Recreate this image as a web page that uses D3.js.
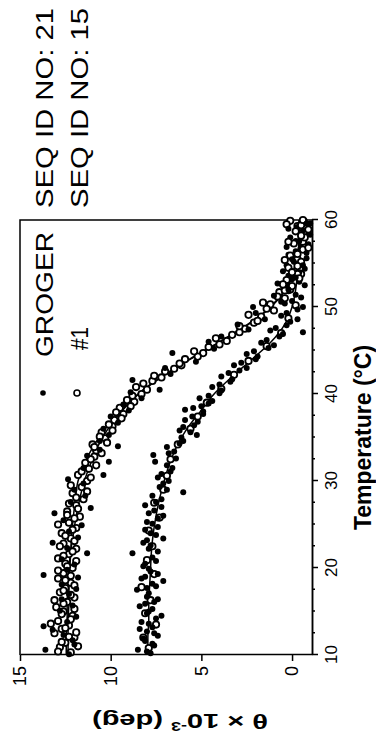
<!DOCTYPE html>
<html>
<head>
<meta charset="utf-8">
<script src="https://cdn.jsdelivr.net/npm/d3@7"></script>
<style>
  body { margin: 0; background: #fff; }
  svg { display: block; font-family: "Liberation Sans", Arial, sans-serif; }
  .axis path, .axis line { stroke: #000; stroke-width: 1.5; }
  .axis text { fill: #000; }
  .fit { fill: none; stroke: #000; stroke-width: 1.5; }
</style>
</head>
<body>
<svg width="376" height="743"></svg>
<script>
// temperature ticks and theta ticks
var tempTicks = [10, 20, 30, 40, 50, 60];
var thetaTicks = [0, 5, 10, 15];
var legendNames = ['GROGER', '#1'];
var legendSeq = ['SEQ ID NO: 21', 'SEQ ID NO: 15'];

// fitted curves
var fitT = [10, 12, 14, 16, 18, 20, 22, 24, 26, 28, 30, 32, 34, 36, 38, 40, 42, 44, 46, 48, 50, 52, 54, 56, 58, 60];
var fitOneHigh = [12.45, 12.45, 12.4, 12.4, 12.35, 12.3, 12.2, 12.05, 11.9, 11.7, 11.45, 11.1, 10.7, 10.15, 9.4, 8.45, 7.15, 5.6, 3.95, 2.4, 1.15, 0.35, -0.1, -0.3, -0.4, -0.4];
var fitGrogerHigh = [12.35, 12.35, 12.35, 12.3, 12.3, 12.25, 12.2, 12.15, 12.05, 11.95, 11.8, 11.45, 10.95, 10.3, 9.45, 8.5, 7.2, 5.65, 4.0, 2.45, 1.2, 0.4, -0.05, -0.3, -0.4, -0.4];
var fitLow = [7.95, 7.95, 7.9, 7.9, 7.85, 7.8, 7.75, 7.65, 7.5, 7.3, 7.05, 6.75, 6.35, 5.8, 5.05, 4.3, 3.3, 2.2, 1.15, 0.4, 0.0, -0.2, -0.3, -0.35, -0.4, -0.4];

// #1, upper curve (open circles)
var oneHighT = [10.3, 10.9, 11.4, 12.0, 12.5, 13.0, 13.4, 13.9, 14.5, 15.0, 15.5, 16.1, 16.6, 17.2, 17.7, 18.3, 18.8, 19.4, 20.0, 20.5, 21.1, 21.6, 22.2, 22.8, 23.4, 24.0, 24.6, 25.2, 25.9, 26.5, 27.2, 27.9, 28.6, 29.3, 30.0, 30.7, 31.4, 32.1, 32.8, 33.5, 34.2, 34.9, 35.6, 36.3, 37.0, 37.7, 38.4, 39.1, 39.8, 40.5, 41.2, 41.9, 42.6, 43.3, 44.0, 44.7, 45.4, 46.1, 46.8, 47.5, 48.2, 48.9, 49.6, 50.3, 51.0, 51.7, 52.4, 53.1, 53.8, 54.5, 55.2, 55.9, 56.6, 57.3, 58.0, 58.7, 59.4, 59.9,
    10.4, 11.0, 11.5, 12.1, 12.6, 13.1, 13.6, 14.1, 14.7, 15.3, 15.9, 16.3, 16.9, 17.4, 18.0, 18.6, 19.1, 19.7, 20.2, 20.8, 21.4, 21.9, 22.5, 23.1, 23.7, 24.4, 25.0, 25.7, 26.1, 26.8, 27.4, 28.1, 28.8, 29.5, 30.4, 31.1, 31.8, 32.5, 33.2, 33.9, 34.4, 35.1, 35.8, 36.5, 37.2, 37.9, 38.6, 39.3, 40.0, 40.8, 41.5, 42.1, 42.9, 43.5, 44.3, 44.9, 45.7, 46.4, 47.1, 47.8, 48.4, 49.1, 49.8, 50.5, 51.2, 51.9, 52.6, 53.3, 54.0, 54.7, 55.4, 56.1, 56.8, 57.5, 58.2, 58.9, 59.5, 60.0];
var oneHighTheta = [12.2, 12.8, 12.5, 12.0, 13.1, 12.7, 12.3, 12.9, 12.1, 12.6, 13.0, 12.4, 12.0, 12.8, 12.5, 12.2, 12.9, 12.6, 12.1, 12.5, 12.9, 12.3, 11.9, 12.6, 12.2, 12.7, 11.9, 12.3, 11.7, 12.4, 11.9, 11.5, 12.1, 11.6, 11.3, 11.8, 11.2, 11.4, 10.9, 10.8, 11.0, 10.3, 10.5, 9.9, 9.8, 9.3, 9.5, 8.7, 8.8, 8.0, 8.2, 7.2, 7.0, 6.1, 5.9, 4.9, 4.6, 3.6, 3.3, 2.6, 2.1, 1.7, 1.0, 1.2, 0.4, 0.7, 0.0, 0.3, -0.3, 0.2, -0.5, 0.1, -0.6, -0.1, -0.7, -0.2, -0.5, 0.1,
    12.9, 11.8, 12.7, 12.3, 11.9, 12.5, 13.3, 12.2, 12.7, 12.0, 12.6, 13.1, 12.2, 12.6, 12.0, 12.5, 12.2, 12.9, 12.4, 11.9, 12.6, 12.1, 12.8, 12.0, 12.5, 12.1, 12.9, 12.0, 12.4, 11.8, 12.3, 11.9, 11.3, 12.2, 11.1, 11.6, 10.8, 11.1, 10.5, 10.9, 10.2, 10.6, 9.9, 10.1, 9.4, 9.7, 8.9, 9.1, 8.3, 8.6, 7.7, 7.6, 6.5, 6.2, 5.2, 5.4, 4.0, 4.2, 2.9, 2.9, 1.9, 2.4, 1.4, 1.6, 0.8, 0.4, 0.5, -0.4, 0.0, -0.3, 0.4, -0.3, -0.9, 0.2, -0.5, -0.9, 0.3, -0.6];

// GROGER, upper curve (dots)
var grogerHighT = [10.1, 10.6, 11.2, 11.7, 12.3, 12.9, 13.3, 13.8, 14.4, 15.1, 15.7, 16.4, 17.0, 17.6, 18.1, 18.9, 19.2, 19.8, 20.4, 21.0, 21.7, 22.3, 22.9, 23.5, 24.2, 24.9, 25.5, 26.3, 26.9, 27.6, 28.3, 29.0, 29.7, 30.2, 30.7, 31.5, 32.2, 32.9, 33.6, 34.0, 34.6, 35.3, 36.0, 36.7, 37.4, 38.1, 38.8, 39.5, 40.2, 40.5, 41.6, 42.3, 43.0, 43.7, 44.7, 45.2, 46.0, 46.6, 47.4, 48.0, 48.6, 49.3, 50.0, 50.6, 51.3, 52.0, 52.7, 53.4, 54.1, 54.8, 55.5, 56.2, 56.9, 57.6, 58.3, 59.0, 59.6];
var grogerHighTheta = [12.3, 13.6, 12.0, 12.1, 12.6, 13.2, 13.7, 12.4, 11.9, 12.8, 12.1, 12.7, 12.3, 11.9, 12.7, 11.8, 13.7, 12.4, 12.0, 12.7, 11.3, 12.4, 13.2, 11.8, 12.3, 11.6, 12.6, 13.1, 11.1, 12.2, 11.4, 12.0, 11.5, 12.35, 10.4, 11.5, 10.1, 11.3, 10.6, 9.6, 10.6, 10.1, 10.4, 9.6, 10.0, 9.0, 9.3, 8.3, 8.9, 7.3, 8.8, 6.7, 7.0, 5.3, 6.6, 4.3, 4.6, 3.9, 2.4, 3.0, 1.5, 2.0, 2.15, 0.6, 1.0, 0.2, 0.8, -0.2, 0.5, -0.6, 0.0, -0.8, 0.3, -0.4, -1.0, 0.2, -0.8];

// GROGER, lower curve (dots)
var grogerLowT = [10.2, 10.6, 11.1, 11.6, 12.2, 12.7, 13.2, 13.8, 14.5, 15.0, 15.6, 16.1, 16.7, 17.5, 17.9, 18.5, 19.0, 19.6, 20.2, 20.8, 21.7, 22.2, 22.9, 23.4, 24.0, 24.7, 25.3, 26.0, 26.6, 27.2, 27.9, 28.7, 29.3, 30.0, 30.8, 31.5, 32.2, 33.0, 33.4, 33.9, 34.6, 35.3, 35.8, 36.4, 37.0, 37.7, 38.2, 38.4, 38.9, 39.5, 40.1, 40.8, 41.4, 42.0, 42.7, 43.3, 44.0, 44.6, 45.3, 45.9, 46.6, 47.1, 47.6, 48.3, 49.0, 49.7, 50.4, 51.1, 51.8, 52.5, 53.2, 54.0, 54.8, 55.6, 56.4, 57.2, 58.0, 58.8, 59.6,
    10.4, 11.3, 11.9, 12.5, 13.0, 13.6, 14.2, 14.8, 15.3, 15.9, 16.4, 17.1, 17.7, 18.2, 18.8, 19.3, 19.9, 20.5, 21.2, 21.9, 22.6, 23.2, 23.8, 24.4, 25.1, 25.7, 26.3, 27.0, 27.6, 28.3, 29.0, 29.7, 30.4, 31.1, 31.8, 32.6, 33.2, 34.3, 35.0, 35.6, 36.2, 36.8, 37.4, 38.0, 38.6, 39.2, 39.8, 40.4, 41.1, 41.7, 42.4, 43.0, 43.6, 44.3, 44.9, 45.6, 46.2, 46.9, 47.3, 47.9, 48.6, 49.3, 50.0, 50.7, 51.4, 52.2, 52.9, 53.6, 54.4, 55.2, 56.0, 56.8, 57.6, 58.4, 59.2, 59.9];
var grogerLowTheta = [7.8, 8.5, 7.6, 8.1, 7.4, 8.0, 7.7, 8.3, 7.2, 7.9, 8.4, 7.6, 8.0, 8.55, 7.5, 7.1, 8.1, 7.8, 8.2, 7.5, 8.8, 7.9, 8.2, 7.1, 7.8, 7.4, 8.0, 7.1, 7.6, 8.1, 7.2, 6.0, 7.3, 6.8, 7.2, 6.6, 7.55, 7.65, 6.5, 6.9, 6.0, 5.25, 6.2, 5.4, 5.9, 4.9, 5.9, 5.45, 4.6, 5.1, 4.0, 4.4, 3.4, 3.9, 2.9, 3.2, 2.0, 2.5, 1.3, 1.7, 0.7, -0.6, 0.9, 0.1, 0.6, -0.3, 0.4, -0.5, 0.2, -0.7, 0.0, -0.4, 0.3, -0.8, -0.2, -0.9, 0.1, -0.6, -1.0,
    8.0, 7.7, 8.2, 7.6, 8.4, 7.9, 7.5, 8.0, 7.7, 8.1, 7.4, 7.9, 8.0, 7.7, 8.3, 7.4, 7.9, 8.1, 7.7, 7.4, 7.8, 8.0, 7.5, 8.1, 7.7, 7.4, 7.9, 7.2, 7.5, 7.7, 6.9, 7.1, 7.4, 6.7, 6.9, 6.4, 6.8, 6.2, 6.1, 5.6, 6.0, 5.2, 5.5, 4.9, 5.0, 4.4, 4.6, 3.9, 4.0, 3.3, 3.5, 2.5, 2.8, 1.9, 2.1, 1.0, 1.4, 0.5, 1.2, 0.3, -0.3, 0.3, -0.6, 0.0, -0.2, 0.4, -0.4, 0.2, -0.7, -0.1, 0.2, -0.5, -0.2, -0.9, -0.3, -0.7];

// #1, lower curve (open circles)
var oneLowT = [10.8, 12.0, 13.5, 14.8, 16.3, 17.8, 19.3, 20.9, 22.5, 24.3, 25.8, 27.5, 29.0, 30.6, 32.5, 34.2, 36.0, 37.4, 39.0, 40.6, 42.2, 43.8, 45.5, 47.0, 48.7, 50.2, 52.0, 53.8, 55.5, 57.5, 59.3];
var oneLowTheta = [7.9, 8.2, 7.5, 8.1, 7.8, 8.3, 7.6, 8.0, 7.7, 7.9, 7.3, 7.6, 7.1, 6.9, 6.7, 6.3, 5.6, 5.2, 4.7, 3.9, 3.2, 2.4, 1.4, 0.6, 0.2, -0.2, 0.1, -0.5, -0.3, -0.6, -0.3];

var svg = d3.select('svg'),
    W = 743, H = 376;

// the figure is drawn upright and turned a quarter turn left
var g = svg.append('g').attr('transform', 'translate(0,' + W + ') rotate(-90)');

var x = d3.scaleLinear().domain([10, 60]).range([88, 523]);
var y = d3.scaleLinear().domain([-1.1, 15]).range([312, 20]);

var zip = (a, b) => a.map((d, i) => [d, b[i]]);

// frame
g.append('path')
    .attr('d', 'M' + x(10) + ',' + y(15) + 'H' + x(60) + 'V' + y.range()[0])
    .attr('fill', 'none').attr('stroke', '#000').attr('stroke-width', 1.5);

// minor ticks
g.append('g')
    .attr('class', 'axis')
    .attr('transform', 'translate(0,' + y.range()[0] + ')')
    .call(d3.axisBottom(x).tickValues(d3.range(12.5, 60, 2.5).filter(d => d % 10 != 0)).tickSize(3).tickFormat('').tickSizeOuter(0));

g.append('g')
    .attr('class', 'axis')
    .attr('transform', 'translate(0,' + y.range()[0] + ')')
    .call(d3.axisBottom(x).tickValues(tempTicks).tickSize(6).tickPadding(7).tickSizeOuter(0))
    .selectAll('text').attr('font-size', 17);

g.append('g')
    .attr('class', 'axis')
    .attr('transform', 'translate(' + x(10) + ',0)')
    .call(d3.axisLeft(y).tickValues(thetaTicks).tickSize(6).tickPadding(5).tickSizeOuter(0))
    .selectAll('text').attr('font-size', 18);

// fitted lines
var line = d3.line()
    .x(d => x(d[0]))
    .y(d => y(d[1]))
    .curve(d3.curveMonotoneX);

[fitOneHigh, fitGrogerHigh, fitLow].forEach(f => {
    g.append('path').attr('class', 'fit').attr('d', line(zip(fitT, f)));
});

// points
function circles(data) {
    g.append('g').selectAll('circle')
        .data(data).enter().append('circle')
        .attr('cx', d => x(d[0])).attr('cy', d => y(d[1]))
        .attr('r', 3.2).attr('fill', '#fff').attr('stroke', '#000').attr('stroke-width', 1.8);
}
function dots(data) {
    g.append('g').selectAll('circle')
        .data(data).enter().append('circle')
        .attr('cx', d => x(d[0])).attr('cy', d => y(d[1]))
        .attr('r', 3).attr('fill', '#000');
}
circles(zip(oneLowT, oneLowTheta));
dots(zip(grogerLowT, grogerLowTheta));
circles(zip(oneHighT, oneHighTheta));
dots(zip(grogerHighT, grogerHighTheta));

// legend
g.append('circle').attr('cx', 350).attr('cy', 43).attr('r', 2.8).attr('fill', '#000');
g.append('circle').attr('cx', 350).attr('cy', 77).attr('r', 3).attr('fill', '#fff').attr('stroke', '#000').attr('stroke-width', 1.6);

var legend = g.append('g').attr('font-size', 23);
legend.append('text').attr('x', 386).attr('y', 53).attr('textLength', 125).attr('lengthAdjust', 'spacingAndGlyphs').text(legendNames[0]);
legend.append('text').attr('x', 393).attr('y', 88).attr('textLength', 23).attr('lengthAdjust', 'spacingAndGlyphs').text(legendNames[1]);
legend.append('text').attr('x', 535).attr('y', 53).attr('textLength', 200).attr('lengthAdjust', 'spacingAndGlyphs').text(legendSeq[0]);
legend.append('text').attr('x', 535).attr('y', 88).attr('textLength', 200).attr('lengthAdjust', 'spacingAndGlyphs').text(legendSeq[1]);

// axis titles
g.append('text')
    .attr('x', (x(10) + x(60)) / 2).attr('y', 371)
    .attr('text-anchor', 'middle').attr('font-weight', 'bold').attr('font-size', 23)
    .text('Temperature (°C)');

var yl = g.append('text')
    .attr('transform', 'translate(29,180) rotate(-90)')
    .attr('text-anchor', 'middle').attr('font-weight', 'bold').attr('font-size', 21)
    .attr('textLength', 176).attr('lengthAdjust', 'spacingAndGlyphs');
yl.append('tspan').text('θ × 10');
yl.append('tspan').attr('font-size', 13).attr('dy', -8).text('-3');
yl.append('tspan').attr('dy', 8).text(' (deg)');
</script>
</body>
</html>
